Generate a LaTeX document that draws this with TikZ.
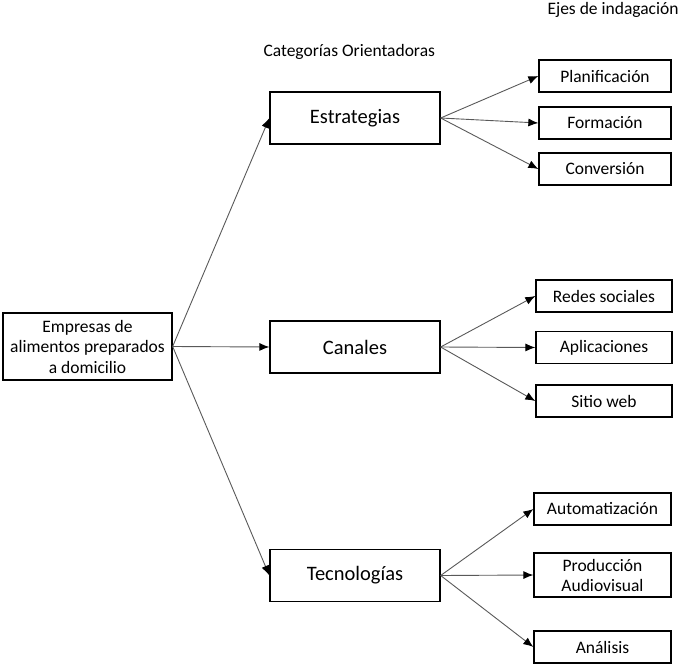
\documentclass[tikz,border=0pt]{standalone}
\usepackage{fontspec}
\setmainfont{Carlito}
\usetikzlibrary{arrows.meta}

\begin{document}
\begin{tikzpicture}[x=1pt, y=-1pt,
    cat/.style = {draw, line width=1.3pt, minimum width=170pt, minimum height=52pt, font=\fontsize{20.5}{24}\selectfont},
    eje/.style = {draw, line width=1.3pt, minimum width=134pt, minimum height=32pt, font=\fontsize{17.5}{20}\selectfont},
    arr/.style = {-{Latex[black, length=10pt, width=8pt]}, draw=black!65, line width=0.9pt}]
                \useasboundingbox (0,0) rectangle (678,664);

                \node[anchor=west, font=\fontsize{17.5}{20}\selectfont] at (544,10) (ejes) {Ejes de indagación};
                \node[anchor=west, font=\fontsize{17.5}{20}\selectfont] at (260,52) (cats) {Categorías Orientadoras};

                \node[draw, line width=1.3pt, minimum width=169pt, minimum height=67pt, align=center,
                      font=\fontsize{17.5}{20.5}\selectfont] at (87.5,346.5) (emp)
                      {Empresas de\\alimentos preparados\\a domicilio};

                \node[cat] at (355,118) (est) {Estrategias};
                \node[cat] at (355,347) (can) {Canales};
                \node[cat] at (355,575.5) (tec) {Tecnologías};

                \node[eje, minimum width=132pt] at (605,76) (pla) {Planificación};
                \node[eje, minimum width=132pt] at (605,123) (for) {Formación};
                \node[eje, minimum width=132pt] at (605,169) (con) {Conversión};

                \node[eje, minimum width=136pt] at (604,296) (red) {Redes sociales};
                \node[eje, minimum width=136pt] at (604,347.5) (apl) {Aplicaciones};
                \node[eje, minimum width=136pt] at (604,401) (sit) {Sitio web};

                \node[eje, minimum width=137pt] at (602.5,509) (aut) {Automatización};
                \node[eje, minimum width=137pt, minimum height=44pt, align=center,
                      font=\fontsize{17.5}{20}\selectfont] at (602.5,575) (pro) {Producción\\Audiovisual};
                \node[eje, minimum width=137pt] at (602.5,647) (ana) {Análisis};

                \draw [arr] (emp.east) -- (est.west);
                \draw [arr] (emp.east) -- (can.west);
                \draw [arr] (emp.east) -- (tec.west);

                \draw [arr] (est.east) -- (pla.west);
                \draw [arr] (est.east) -- (for.west);
                \draw [arr] (est.east) -- (con.west);

                \draw [arr] (can.east) -- (red.west);
                \draw [arr] (can.east) -- (apl.west);
                \draw [arr] (can.east) -- (sit.west);

                \draw [arr] (tec.east) -- (aut.west);
                \draw [arr] (tec.east) -- (pro.west);
                \draw [arr] (tec.east) -- (ana.west);
            \end{tikzpicture}
\end{document}
